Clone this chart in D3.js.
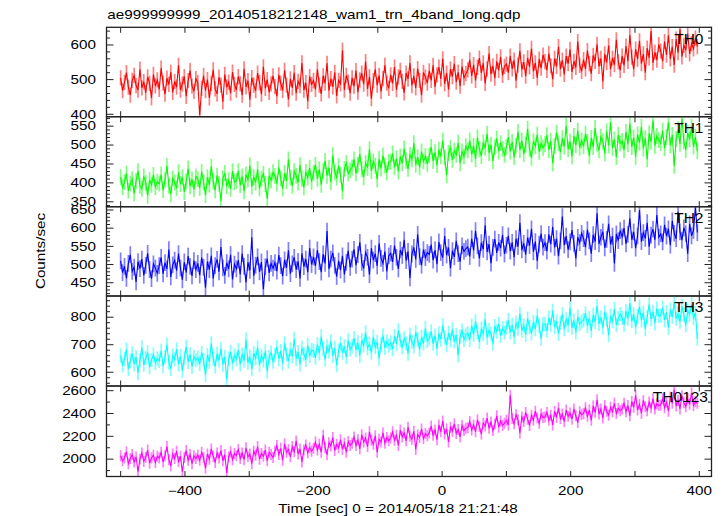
<!DOCTYPE html>
<html><head><meta charset="utf-8">
<script src="https://cdn.jsdelivr.net/npm/d3@7"></script>
<style>
body{margin:0;background:#fff}
svg{display:block}
text{font-family:"Liberation Sans",Arial,Helvetica,sans-serif;fill:#000}
</style>
</head><body>
<svg id="chart" width="724" height="516"></svg>
<script>
// ---------------- DATA ----------------
const chartTitle = "ae999999999_20140518212148_wam1_trn_4band_long.qdp";
const xAxisTitle = "Time [sec] 0 = 2014/05/18 21:21:48";
const yAxisTitle = "Counts/sec";
const seriesNames = ["TH0", "TH1", "TH2", "TH3", "TH0123"];
const binStart = -500;   // time of first bin [sec]
const binSize = 3;       // bin width [sec]

const th0 = [
505,468,492,520,478,455,498,512,483,470,530,476,494,462,508,489,447,515,482,499,
472,533,490,458,504,486,521,463,495,478,541,470,488,509,452,497,526,481,466,503,
491,398,475,512,468,500,447,489,528,473,459,507,484,436,515,478,493,461,522,486,
470,509,488,455,531,479,497,442,506,484,468,519,491,458,537,475,500,463,488,511,
480,452,514,490,469,527,484,443,502,476,520,461,495,483,548,470,491,437,509,486,
497,472,530,484,459,511,490,547,468,503,479,521,453,498,488,585,470,512,493,461,
505,481,526,464,499,519,487,552,473,508,445,497,530,484,512,466,503,541,490,475,
514,489,536,471,508,527,495,462,519,502,548,483,511,476,532,498,455,521,507,490,
525,498,541,479,514,536,502,560,488,519,472,530,509,546,493,522,481,538,505,517,
528,557,511,543,498,535,562,519,548,489,531,575,516,540,504,553,527,566,512,538,
545,520,568,531,556,497,542,583,529,551,510,563,537,590,524,548,505,559,533,571,
552,527,575,540,501,561,538,595,530,556,515,568,546,587,522,553,535,610,541,524,
558,531,584,546,517,570,553,602,538,561,495,574,549,598,530,562,543,615,551,527,
568,541,597,553,629,565,530,588,559,612,546,574,520,591,563,640,548,579,556,601,
582,553,610,571,628,560,595,542,617,578,645,566,599,585,633,574,604,589,620,595];

const th1 = [
415,388,402,425,379,398,410,372,405,431,392,384,417,400,366,408,395,421,389,403,
398,422,381,407,445,393,370,412,401,386,428,397,415,376,404,438,391,409,383,417,
410,386,429,401,368,415,395,443,404,380,419,398,352,412,426,391,407,384,431,402,
405,431,394,417,378,422,409,446,390,415,401,436,385,411,424,397,358,419,407,428,
418,398,441,412,385,426,405,462,414,392,431,419,401,447,410,388,429,414,440,403,
427,448,411,436,395,431,458,419,440,402,473,428,414,445,421,378,437,452,425,433,
441,462,425,448,476,436,415,453,440,489,431,457,445,409,463,438,472,446,427,455,
456,478,441,465,430,470,452,491,459,437,474,462,505,448,468,441,483,457,471,450,
472,495,458,481,447,488,470,512,466,420,479,493,461,485,474,506,452,483,470,497,
486,512,475,498,463,520,489,471,507,492,530,479,501,458,494,517,483,505,490,474,
495,521,483,508,468,499,535,487,512,476,501,543,490,466,510,497,528,482,505,493,
502,526,487,511,452,498,533,505,481,518,496,551,489,509,470,524,500,538,493,512,
497,530,508,471,519,495,545,503,486,522,510,478,536,499,560,492,515,468,527,504,
511,487,535,502,557,495,520,469,528,506,548,491,518,462,531,509,565,498,524,513,
505,538,492,521,560,499,527,445,516,541,503,570,510,487,532,515,548,496,522,484];

const th2 = [
510,478,495,462,503,527,481,493,452,508,489,515,470,498,531,486,461,502,490,476,
497,520,474,505,488,541,466,499,512,483,530,491,458,507,478,523,495,469,511,486,
503,471,519,492,436,508,486,524,462,497,514,480,548,491,470,505,488,527,459,501,
488,512,473,530,495,451,506,484,575,469,498,521,480,507,432,494,516,477,503,490,
505,482,526,497,468,513,491,539,475,502,520,486,509,462,531,494,515,479,545,500,
521,496,540,508,479,529,503,592,488,515,532,498,467,510,485,524,473,506,538,492,
515,542,498,527,561,506,489,533,520,472,545,512,530,496,558,517,503,536,481,524,
531,507,552,520,488,540,525,568,511,536,463,529,547,514,583,522,498,541,519,533,
528,555,512,540,501,562,533,519,578,526,547,490,538,521,565,530,508,551,536,544,
548,522,571,539,593,551,517,560,542,608,535,556,504,547,570,532,561,545,582,529,
553,579,537,561,520,571,549,615,540,558,527,574,552,598,535,563,510,556,585,548,
560,537,583,556,604,547,571,523,565,632,553,578,541,562,595,558,517,575,560,586,
571,548,596,565,530,582,563,641,557,575,590,546,569,612,555,578,503,584,566,593,
576,600,557,583,627,568,590,545,579,650,563,588,572,615,549,581,597,568,636,575,
584,562,609,578,598,553,620,586,571,645,590,567,601,585,530,612,579,594,657,588];

const th3 = [
660,625,648,682,612,641,668,630,655,598,643,690,627,651,672,618,645,663,634,650,
641,678,622,655,700,636,612,660,647,683,629,658,606,651,692,638,665,620,657,644,
653,630,671,645,590,662,638,705,649,621,667,643,685,628,656,574,648,674,632,661,
648,680,629,664,642,718,635,657,611,669,651,690,626,660,643,676,603,655,671,639,
662,691,648,677,632,705,665,640,683,658,721,650,674,629,688,667,645,698,660,681,
678,652,701,669,730,684,647,693,675,712,660,688,626,679,705,671,694,655,716,683,
695,724,681,708,660,716,698,745,687,703,671,729,692,710,650,701,733,689,712,697,
708,684,731,702,752,715,690,723,706,668,737,711,694,746,719,682,728,705,760,713,
722,748,704,733,686,741,719,770,727,699,743,716,756,712,735,662,729,751,718,737,
741,718,769,737,785,745,710,758,739,792,726,753,740,704,767,748,776,732,760,744,
762,789,745,771,728,780,759,812,751,770,736,795,764,741,783,757,806,768,722,775,
776,750,798,771,823,764,785,740,779,810,757,792,770,833,761,788,745,802,775,784,
789,815,768,797,750,808,783,840,776,799,762,818,791,735,805,786,829,772,796,811,
798,773,822,795,851,786,810,763,804,838,789,816,757,800,846,793,819,778,832,805,
806,835,789,818,762,827,801,856,795,812,784,840,808,771,824,810,848,797,815,722];

const th0123 = [
2030,1985,2010,2065,1960,2005,2040,1975,2020,1890,2000,2055,1980,2015,2080,1965,2010,2035,1970,2025,
2010,2060,1975,2030,2110,1995,1940,2045,2005,2070,1980,2025,1890,2015,2075,1990,2040,1960,2030,2005,
2035,1990,2060,2015,1920,2045,2000,2090,2025,1970,2055,2010,2075,1985,2040,1880,2020,2065,1995,2050,
2030,2085,2005,2055,1995,2100,2020,2045,1960,2070,2035,2110,2000,2050,2025,2080,1985,2060,2040,2015,
2070,2120,2040,2095,1990,2135,2060,2085,2020,2110,2065,2160,2045,2090,1975,2080,2125,2055,2100,2070,
2095,2150,2080,2130,2060,2210,2100,2040,2145,2115,2190,2075,2130,2100,2170,2085,2140,2060,2155,2120,
2140,2195,2120,2170,2090,2215,2150,2185,2110,2240,2165,2130,2205,2060,2175,2150,2230,2140,2190,2160,
2185,2240,2165,2210,2120,2255,2195,2230,2160,2280,2200,2175,2245,2085,2215,2190,2265,2180,2225,2205,
2230,2290,2210,2255,2170,2300,2240,2335,2220,2265,2150,2280,2245,2310,2225,2260,2195,2295,2250,2270,
2275,2330,2255,2300,2240,2345,2285,2220,2315,2290,2360,2270,2325,2250,2305,2380,2280,2335,2295,2315,
2340,2300,2560,2355,2310,2390,2345,2230,2370,2330,2410,2350,2295,2385,2340,2420,2360,2315,2395,2365,
2370,2410,2340,2385,2300,2420,2365,2450,2355,2395,2330,2430,2375,2405,2350,2440,2380,2320,2415,2390,
2400,2450,2375,2430,2340,2465,2410,2520,2395,2440,2360,2470,2420,2385,2455,2415,2490,2400,2445,2425,
2440,2490,2415,2470,2380,2505,2455,2560,2430,2480,2400,2515,2460,2425,2500,2450,2530,2440,2485,2470,
2475,2530,2450,2500,2420,2545,2490,2610,2465,2515,2440,2555,2495,2460,2530,2480,2580,2470,2505,2490];

const seriesValues = [th0, th1, th2, th3, th0123];
const seriesErrors = [22, 21, 23, 26, 48];             // 1-sigma error bar half-length
const seriesColors = ["#ff0000", "#00ff00", "#0000ff", "#00ffff", "#ff00ff"];
const yMin = [393, 337, 413.5, 550, 1848];
const yMax = [651, 575, 659, 877, 2641];
const yMajorStep = [100, 50, 50, 100, 200];
const yMinorStep = [20, 10, 10, 20, 100];
const xDomain = [-522, 419];
const xMajorStep = 100;
const xTickLabels = [-400, -200, 0, 200, 400];

// ---------------- LAYOUT ----------------
const W = 724, H = 516;
const plotLeft = 106.5, plotRight = 711.5;
const panelTops = [27.3, 116.7, 206.7, 296, 386];
const panelBottoms = [116.7, 206.7, 296, 386, 476.5];
const stretch = 1.27;       // wide PGPLOT-like font
const axisColor = "#222";

const svg = d3.select("#chart");
svg.append("rect").attr("width", W).attr("height", H).attr("fill", "#fff");

const x = d3.scaleLinear().domain(xDomain).range([plotLeft, plotRight]);

function wideText(parent, px, py, str, anchor, size) {
  const g = parent.append("g").attr("transform", `translate(${px},${py}) scale(${stretch},1)`);
  return g.append("text").attr("text-anchor", anchor).attr("font-size", size).text(str);
}
const fmt = v => (v < 0 ? "\u2212" + Math.abs(v) : String(v));

const xMajorTicks = d3.range(Math.ceil(xDomain[0] / xMajorStep) * xMajorStep, xDomain[1] + 0.001, xMajorStep);

seriesNames.forEach((name, i) => {
  const top = panelTops[i], bot = panelBottoms[i];
  const y = d3.scaleLinear().domain([yMin[i], yMax[i]]).range([bot, top]);
  const g = svg.append("g");
  const clipId = "clip" + i;
  svg.append("clipPath").attr("id", clipId).append("rect")
    .attr("x", plotLeft).attr("y", top).attr("width", plotRight - plotLeft).attr("height", bot - top);

  const vals = seriesValues[i];
  const pts = vals.map((v, k) => ({t: binStart + k * binSize, v}));
  const err = seriesErrors[i];
  const data = g.append("g").attr("clip-path", `url(#${clipId})`);

  // error bars (lighter)
  data.append("g").selectAll("line").data(pts).join("line")
    .attr("x1", d => x(d.t)).attr("x2", d => x(d.t))
    .attr("y1", d => y(d.v - err)).attr("y2", d => y(d.v + err))
    .attr("stroke", seriesColors[i]).attr("stroke-opacity", 0.5).attr("stroke-width", 1.7);
  // connecting line
  data.append("path").datum(pts)
    .attr("d", d3.line().x(d => x(d.t)).y(d => y(d.v)))
    .attr("fill", "none").attr("stroke", seriesColors[i]).attr("stroke-width", 1.1);

  // y ticks (left and right, inward)
  const minorTicks = d3.range(Math.ceil(yMin[i] / yMinorStep[i]) * yMinorStep[i], yMax[i] + 0.001, yMinorStep[i]);
  const majorTicks = d3.range(Math.ceil(yMin[i] / yMajorStep[i]) * yMajorStep[i], yMax[i] + 0.001, yMajorStep[i]);
  const tk = g.append("g").attr("stroke", axisColor).attr("stroke-width", 1);
  minorTicks.forEach(v => {
    const isMajor = Math.abs(v / yMajorStep[i] - Math.round(v / yMajorStep[i])) < 1e-6;
    const len = isMajor ? 7 : 3.5;
    tk.append("line").attr("x1", plotLeft).attr("x2", plotLeft + len).attr("y1", y(v)).attr("y2", y(v));
    tk.append("line").attr("x1", plotRight).attr("x2", plotRight - len).attr("y1", y(v)).attr("y2", y(v));
  });
  // x ticks top & bottom, inward
  xMajorTicks.forEach(t => {
    tk.append("line").attr("x1", x(t)).attr("x2", x(t)).attr("y1", top).attr("y2", top + 5.5);
    tk.append("line").attr("x1", x(t)).attr("x2", x(t)).attr("y1", bot).attr("y2", bot - 5.5);
  });
  // y tick labels
  majorTicks.forEach(v => {
    wideText(g, 96, y(v) + 4.3, fmt(v), "end", 12);
  });
  // panel frame
  g.append("rect").attr("x", plotLeft).attr("y", top).attr("width", plotRight - plotLeft).attr("height", bot - top)
    .attr("fill", "none").attr("stroke", axisColor).attr("stroke-width", 1.3);
  // series name
  g.append("text").attr("x", i === 4 ? 708 : 703.5).attr("y", top + 16.3).attr("text-anchor", "end")
    .attr("font-size", 15.5).text(name);
});

// x tick labels
xTickLabels.forEach(t => wideText(svg, x(t), 495, fmt(t), "middle", 12));
// titles
wideText(svg, 107.3, 19.3, chartTitle, "start", 12);
wideText(svg, 398, 513, xAxisTitle, "middle", 12);
svg.append("g").attr("transform", `translate(44.5,251) rotate(-90) scale(${stretch},1)`)
  .append("text").attr("text-anchor", "middle").attr("font-size", 12).text(yAxisTitle);
</script>
</body></html>
